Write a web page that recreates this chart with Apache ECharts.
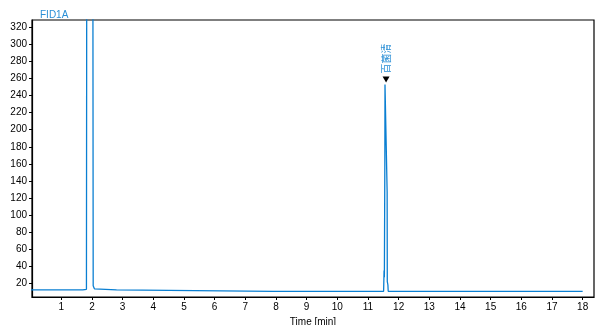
<!DOCTYPE html>
<html><head><meta charset="utf-8">
<script src="https://cdn.jsdelivr.net/npm/echarts@6/dist/echarts.min.js"></script>
<style>html,body{margin:0;padding:0;background:#fff}#c{width:600px;height:325px}</style>
</head><body><div id="c"></div>
<script>
const times  = [0.0, 1.70, 1.71, 1.82, 1.83, 2.03, 2.04, 2.06, 2.08, 2.12, 2.80, 2.81, 7.91, 7.92, 7.93, 8.26, 8.27, 8.28, 11.51, 11.52, 11.525, 11.535, 11.545, 11.55, 11.555, 11.62, 11.625, 11.63, 11.645, 11.65, 11.66, 18.0];
const signal = [12.2, 12.2, 12.9, 12.9, 400, 400, 17.0, 15.5, 13.5, 12.3, 12.2, 10.6, 10.6, 11.6, 10.6, 10.6, 11.6, 10.6, 10.6, 10.6, 35, 27, 27, 160, 253, 253, 127, 22, 22, 18, 10.6, 10.6];
const xTicks = [1,2,3,4,5,6,7,8,9,10,11,12,13,14,15,16,17,18];
const yTicks = [20,40,60,80,100,120,140,160,180,200,220,240,260,280,300,320];
const peakName = ['百菌清'];
const peakTime = [11.59];
const peakHeight = [253];
const signalName = 'FID1A';

const chart = echarts.init(document.getElementById('c'), null, {renderer:'canvas'});
const blue = '#0a7fd2';
const font = 'Liberation Sans, Arial, sans-serif';
chart.setOption({
  animation:false,
  title:{text:signalName, left:35, top:5, textStyle:{color:'#2a8fd6', fontSize:10, fontWeight:'normal', fontFamily:font}},
  grid:{left:32, right:6, top:20, bottom:28, show:true, borderColor:'#000', borderWidth:1.2, containLabel:false, outerBoundsMode:'none'},
  xAxis:{type:'value', min:0.045, max:18.37, name:'Time [min]', nameLocation:'middle', nameGap:15,
    nameTextStyle:{color:'#000', fontSize:10, fontFamily:font},
    axisLine:{lineStyle:{color:'#000', width:1.2}},
    axisTick:{customValues:xTicks, length:3, lineStyle:{color:'#000'}},
    axisLabel:{customValues:xTicks, color:'#000', fontSize:10, fontFamily:font, margin:5},
    splitLine:{show:false}},
  yAxis:{type:'value', min:3.94, max:328.6, name:'pA', nameLocation:'middle', nameGap:18, nameRotate:90,
    nameTextStyle:{color:'#000', fontSize:10, fontFamily:font},
    axisLine:{show:true, lineStyle:{color:'#000', width:1.2}},
    axisTick:{show:true, customValues:yTicks, length:3, lineStyle:{color:'#000'}},
    axisLabel:{customValues:yTicks, color:'#000', fontSize:10, fontFamily:font, margin:5},
    splitLine:{show:false}},
  series:[{
    type:'line', showSymbol:false, clip:true,
    data: times.map((t,i)=>[t, signal[i]]),
    lineStyle:{color:blue, width:1.3},
    itemStyle:{color:blue},
    markPoint:{
      symbol:'triangle', symbolSize:[7,6], symbolRotate:180, symbolOffset:[0,-5],
      itemStyle:{color:'#000'},
      label:{show:true, position:'top', rotate:90, align:'left', verticalAlign:'middle', distance:3,
        color:'#2a8fd6', fontSize:10, fontFamily:'Noto Sans CJK SC', formatter:p=>p.name},
      data: peakName.map((n,i)=>({name:n, coord:[peakTime[i], peakHeight[i]]}))
    }
  }]
});
</script></body></html>
